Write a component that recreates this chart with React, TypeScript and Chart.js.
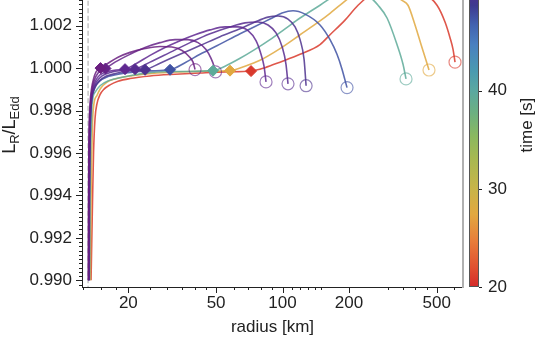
import React, { useEffect, useRef } from 'react';
import { Chart, registerables } from 'chart.js';

Chart.register(...registerables);

// ---------------- data ----------------
const seriesTimes = [20.8, 27.5, 39.5, 47.5, 49.8, 50.7, 51.5, 52.3, 53];

const radiusT21 = [13.55, 13.76, 13.91, 14.13, 14.43, 14.88, 15.52, 16.52, 17.96, 20.36, 25.09, 32.56, 42.27, 54.88, 71.99, 83.32, 97.44, 120.1, 147.9, 164.2, 192.0, 220.0, 262.7, 330.4, 420.2, 501.6, 545.4, 574.6, 593.0, 605.4];
const lumT21 = [0.99001, 0.99371, 0.99602, 0.99764, 0.99834, 0.99875, 0.99901, 0.99921, 0.99938, 0.99951, 0.99963, 0.99971, 0.99977, 0.99982, 0.99986, 1.00002, 1.00028, 1.00065, 1.00111, 1.00157, 1.00226, 1.00296, 1.0036, 1.00397, 1.00365, 1.00296, 1.00217, 1.00143, 1.00088, 1.00028];

const radiusT28 = [13.45, 13.55, 13.66, 13.76, 13.94, 14.43, 14.93, 16.01, 17.46, 20.79, 25.62, 34.31, 44.54, 57.81, 67.62, 79.07, 97.44, 120.1, 147.9, 164.2, 182.3, 213.2, 260.0, 307.2, 348.2, 370.6, 398.8, 424.6, 447.2, 461.4];
const lumT28 = [0.99001, 0.99371, 0.99602, 0.99741, 0.99826, 0.99872, 0.99903, 0.99934, 0.99949, 0.99964, 0.99975, 0.99982, 0.99985, 0.99988, 1.00009, 1.00037, 1.00092, 1.00157, 1.00222, 1.00258, 1.00296, 1.00351, 1.00388, 1.0036, 1.00319, 1.00296, 1.00203, 1.00111, 1.00037, 0.99991];

const radiusT40 = [13.34, 13.41, 13.48, 13.62, 13.69, 14.17, 14.93, 16.3, 18.73, 25.62, 34.31, 48.42, 54.88, 64.21, 75.03, 87.77, 102.7, 120.1, 147.9, 173.0, 206.6, 244.2, 271.1, 297.8, 330.4, 351.8, 363.0];
const lumT40 = [0.99001, 0.99371, 0.99602, 0.99741, 0.99826, 0.99888, 0.99918, 0.99941, 0.99957, 0.9998, 0.99984, 0.99988, 1.00009, 1.00046, 1.00088, 1.00134, 1.00185, 1.00236, 1.00296, 1.00342, 1.00374, 1.00342, 1.00296, 1.00236, 1.00111, 1.00018, 0.99949];

const radiusT47 = [13.3, 13.34, 13.4, 13.47, 13.58, 13.94, 14.68, 16.3, 19.38, 25.09, 30.91, 36.14, 42.27, 52.09, 64.21, 75.03, 87.77, 99.49, 111.6, 126.5, 147.9, 164.2, 176.6, 186.1, 196.1];
const lumT47 = [0.99001, 0.99371, 0.99602, 0.99741, 0.99834, 0.99898, 0.99935, 0.99961, 0.99977, 0.99987, 0.99992, 1.00025, 1.00065, 1.00113, 1.00162, 1.00196, 1.00231, 1.00259, 1.0027, 1.00254, 1.00203, 1.00134, 1.00065, 0.99995, 0.99908];

const radiusT49 = [13.27, 13.31, 13.37, 13.44, 13.59, 13.91, 14.43, 15.36, 17.05, 19.73, 23.81, 27.84, 34.31, 42.27, 52.09, 64.21, 75.03, 85.97, 95.42, 105.9, 114.0, 120.1, 125.2, 127.9];
const lumT49 = [0.99001, 0.99371, 0.99602, 0.99741, 0.99834, 0.99889, 0.99926, 0.99954, 0.99972, 0.99985, 0.99992, 1.00023, 1.00065, 1.00106, 1.00148, 1.00185, 1.00217, 1.0024, 1.00245, 1.00231, 1.00194, 1.00134, 1.00042, 0.99917];

const radiusT50 = [13.24, 13.28, 13.34, 13.41, 13.55, 13.84, 14.35, 15.2, 16.87, 18.92, 21.45, 25.09, 30.91, 38.09, 46.93, 57.81, 67.62, 77.42, 85.97, 93.45, 99.49, 103.7, 105.9];
const lumT50 = [0.99001, 0.99371, 0.99602, 0.99741, 0.99834, 0.99894, 0.99935, 0.99963, 0.99982, 0.99989, 0.99995, 1.00028, 1.00074, 1.0012, 1.00162, 1.00194, 1.00213, 1.00217, 1.00203, 1.00166, 1.00102, 1.00018, 0.99926];

const radiusT51 = [13.23, 13.27, 13.31, 13.38, 13.52, 13.76, 14.2, 14.88, 16.18, 17.59, 19.32, 21.45, 25.09, 29.33, 34.31, 40.13, 46.93, 54.88, 62.88, 69.77, 75.82, 79.9, 82.44, 84.19];
const lumT51 = [0.99001, 0.99371, 0.99602, 0.99741, 0.99834, 0.99894, 0.9994, 0.99968, 0.99984, 0.99991, 0.99995, 1.00018, 1.0006, 1.00097, 1.00129, 1.00157, 1.0018, 1.00194, 1.00194, 1.00176, 1.00129, 1.00065, 1.00009, 0.99935];

const radiusT52 = [13.2, 13.23, 13.27, 13.34, 13.48, 13.69, 14.05, 14.58, 15.04, 15.76, 17.41, 20.36, 23.81, 27.84, 32.56, 37.3, 41.4, 45.0, 47.42, 48.93, 49.7];
const lumT52 = [0.99001, 0.99371, 0.99602, 0.99741, 0.99834, 0.99898, 0.99945, 0.99977, 0.99988, 0.99998, 1.00028, 1.00065, 1.00097, 1.0012, 1.00134, 1.00134, 1.0012, 1.00088, 1.00046, 1.00009, 0.99982];

const radiusT53 = [13.17, 13.2, 13.24, 13.3, 13.41, 13.62, 13.91, 14.28, 14.96, 16.18, 17.96, 20.36, 23.81, 27.84, 31.56, 35.03, 37.69, 39.3, 40.13];
const lumT53 = [0.99001, 0.99371, 0.99602, 0.99741, 0.99834, 0.99903, 0.99949, 0.99982, 1.0, 1.00023, 1.00051, 1.00074, 1.00092, 1.00102, 1.00099, 1.00083, 1.00055, 1.00028, 0.99993];

const markerRadius = [71.99, 57.81, 48.42, 30.91, 23.81, 21.45, 19.32, 15.76, 14.96];
const markerLum = [0.99986, 0.99988, 0.99988, 0.99992, 0.99992, 0.99995, 0.99995, 0.99998, 1.0];

const nsRadius = 13.14;

const xTickValues = [20, 50, 100, 200, 500];
const xTickLabels = ['20', '50', '100', '200', '500'];
const xMinorTicks = [12.5, 15, 17.5, 25, 30, 35, 40, 45, 60, 70, 80, 90, 110, 120, 130, 140, 150, 300, 350, 400, 450, 600];
const yTickLabels = ['0.990', '0.992', '0.994', '0.996', '0.998', '1.000', '1.002'];
const yTickValues = yTickLabels.map(Number);
const cbTickValues = [20, 30, 40];
const cbTickLabels = ['20', '30', '40'];

const xMin = 12.33, xMax = 658;
const yMin = 0.98969, yMax = 1.00494;
const tMin = 20, tMax = 53;

// ---------------- style ----------------
const cmapStops: [number, string][] = [
  [20, '#d42a2a'], [22, '#e05030'], [24.7, '#e87d3a'], [27.4, '#e2a840'], [30, '#c8b448'],
  [33, '#a8b850'], [35.4, '#8ab860'], [37.7, '#6cb080'], [40, '#5aa8a0'], [42, '#4a9ab0'],
  [44.7, '#4a80c0'], [46.7, '#4262b0'], [48.7, '#3e3a90'], [50, '#50308e'], [51.5, '#5f2890'],
  [53, '#6a1e80'],
];
const FONT = '"Liberation Sans", Arial, sans-serif';

function hexRgb(h: string) {
  return [parseInt(h.slice(1, 3), 16), parseInt(h.slice(3, 5), 16), parseInt(h.slice(5, 7), 16)];
}
function cmap(t: number, a = 1) {
  let c = hexRgb(cmapStops[cmapStops.length - 1][1]);
  if (t <= cmapStops[0][0]) c = hexRgb(cmapStops[0][1]);
  for (let i = 0; i < cmapStops.length - 1; i++) {
    const [t0, c0] = cmapStops[i];
    const [t1, c1] = cmapStops[i + 1];
    if (t >= t0 && t <= t1) {
      const f = (t - t0) / (t1 - t0);
      const a0 = hexRgb(c0), a1 = hexRgb(c1);
      c = a0.map((v, k) => Math.round(v + (a1[k] - v) * f));
      break;
    }
  }
  return `rgba(${c[0]},${c[1]},${c[2]},${a})`;
}

const curves = [
  { t: seriesTimes[0], r: radiusT21, l: lumT21 },
  { t: seriesTimes[1], r: radiusT28, l: lumT28 },
  { t: seriesTimes[2], r: radiusT40, l: lumT40 },
  { t: seriesTimes[3], r: radiusT47, l: lumT47 },
  { t: seriesTimes[4], r: radiusT49, l: lumT49 },
  { t: seriesTimes[5], r: radiusT50, l: lumT50 },
  { t: seriesTimes[6], r: radiusT51, l: lumT51 },
  { t: seriesTimes[7], r: radiusT52, l: lumT52 },
  { t: seriesTimes[8], r: radiusT53, l: lumT53 },
];

const decorPlugin = {
  id: 'decor',
  beforeDatasetsDraw(chart: any) {
    const { ctx, chartArea, scales } = chart;
    const px = scales.x.getPixelForValue(nsRadius);
    ctx.save();
    ctx.strokeStyle = '#c4c4c4';
    ctx.lineWidth = 1.5;
    ctx.setLineDash([5, 2.5]);
    ctx.beginPath();
    ctx.moveTo(px, chartArea.top);
    ctx.lineTo(px, chartArea.bottom);
    ctx.stroke();
    ctx.restore();
  },
  afterDraw(chart: any) {
    const { ctx, chartArea, scales } = chart;
    const { left, right, bottom, top } = chartArea;
    const ys = scales.y, xs = scales.x, cs = scales.yc;
    ctx.save();
    ctx.strokeStyle = '#222';
    ctx.lineWidth = 1;
    ctx.beginPath();
    const k0 = Math.ceil(yMin / 0.0002 - 1e-6), k1 = Math.floor(yMax / 0.0002 + 1e-6);
    for (let k = k0; k <= k1; k++) {
      const p = Math.round(ys.getPixelForValue(k * 0.0002)) + 0.5;
      const len = k % 10 === 0 ? 6 : 3;
      ctx.moveTo(left, p);
      ctx.lineTo(left - len, p);
    }
    xTickValues.forEach((v) => {
      const p = Math.round(xs.getPixelForValue(v)) + 0.5;
      ctx.moveTo(p, bottom);
      ctx.lineTo(p, bottom + 6);
    });
    xMinorTicks.forEach((v) => {
      const p = Math.round(xs.getPixelForValue(v)) + 0.5;
      ctx.moveTo(p, bottom);
      ctx.lineTo(p, bottom + 3);
    });
    ctx.stroke();

    // colorbar
    const cbL = right + 6, cbR = right + 16;
    const yb = cs.getPixelForValue(tMin), yt = cs.getPixelForValue(tMax);
    const g = ctx.createLinearGradient(0, yb, 0, yt);
    cmapStops.forEach(([t, c]) => g.addColorStop((t - tMin) / (tMax - tMin), c));
    ctx.fillStyle = g;
    ctx.fillRect(cbL, yt, cbR - cbL, yb - yt);
    ctx.strokeStyle = '#555';
    ctx.lineWidth = 1;
    ctx.strokeRect(cbL + 0.5, yt + 0.5, cbR - cbL - 1, yb - yt - 1);
    ctx.strokeStyle = '#222';
    ctx.beginPath();
    cbTickValues.forEach((v) => {
      const p = Math.round(cs.getPixelForValue(v)) + 0.5;
      ctx.moveTo(cbR, p);
      ctx.lineTo(cbR + 3, p);
    });
    ctx.stroke();

    // y title with subscripts
    ctx.fillStyle = '#222';
    ctx.textBaseline = 'alphabetic';
    const mainF = `18px ${FONT}`, subF = `13px ${FONT}`;
    const parts: [string, string, number][] = [['L', mainF, 0], ['R', subF, 4], ['/', mainF, 0], ['L', mainF, 0], ['Edd', subF, 4]];
    let total = 0;
    parts.forEach(([s, f]) => { ctx.font = f; total += ctx.measureText(s).width; });
    ctx.save();
    ctx.translate(15, (top + bottom) / 2);
    ctx.rotate(-Math.PI / 2);
    let cx = -total / 2;
    parts.forEach(([s, f, dy]) => {
      ctx.font = f;
      ctx.fillText(s, cx, dy);
      cx += ctx.measureText(s).width;
    });
    ctx.restore();

    // colorbar title
    ctx.save();
    ctx.font = `17px ${FONT}`;
    ctx.textAlign = 'center';
    ctx.textBaseline = 'middle';
    ctx.translate(527, (top + bottom) / 2);
    ctx.rotate(-Math.PI / 2);
    ctx.fillText('time [s]', 0, 0);
    ctx.restore();
    ctx.restore();
  },
};

export default function App() {
  const ref = useRef<HTMLCanvasElement>(null);
  useEffect(() => {
    const lineSets = curves.map((c, i) => ({
      label: `t=${c.t}`,
      data: c.r.map((r, j) => ({ x: r, y: c.l[j] })),
      showLine: true,
      borderColor: cmap(c.t, 0.85),
      backgroundColor: cmap(c.t, 0.85),
      borderWidth: 1.6,
      pointRadius: 0,
      cubicInterpolationMode: 'monotone',
      order: 30 - i,
    }));
    const diamonds = {
      label: 'markers',
      data: markerRadius.map((r, i) => ({ x: r, y: markerLum[i] })),
      showLine: false,
      pointStyle: 'rectRot',
      pointRadius: 5.5,
      backgroundColor: seriesTimes.map((t) => cmap(t)),
      borderColor: seriesTimes.map((t) => cmap(t)),
      borderWidth: 1,
      order: 0,
    };
    const ends = {
      label: 'ends',
      data: curves.map((c) => ({ x: c.r[c.r.length - 1], y: c.l[c.l.length - 1] })),
      showLine: false,
      pointStyle: 'circle',
      pointRadius: 6,
      backgroundColor: 'rgba(0,0,0,0)',
      borderColor: seriesTimes.map((t) => cmap(t, 0.6)),
      borderWidth: 1.2,
      order: 1,
    };
    const tickFont = { family: FONT, size: 17 };
    const chart = new Chart(ref.current as HTMLCanvasElement, {
      type: 'scatter',
      data: { datasets: [diamonds, ends, ...lineSets] as any },
      plugins: [decorPlugin],
      options: {
        responsive: false,
        animation: false,
        devicePixelRatio: 1,
        layout: { padding: { top: 7, left: 0, right: 0, bottom: 0 } },
        plugins: { legend: { display: false }, tooltip: { enabled: false } },
        scales: {
          x: {
            type: 'logarithmic',
            position: 'bottom',
            min: xMin,
            max: xMax,
            grid: { display: false, drawTicks: false },
            border: { display: true, color: '#222', width: 1 },
            afterBuildTicks: (s: any) => {
              s.ticks = [xMin, ...xTickValues, xMax].map((v) => ({ value: v }));
            },
            afterFit: (s: any) => { s.height = 52; },
            ticks: {
              autoSkip: false,
              maxRotation: 0,
              padding: 6,
              color: '#222',
              font: tickFont,
              callback: (v: any) => {
                const i = xTickValues.findIndex((t) => Math.abs(t - v) < 1e-6);
                return i >= 0 ? xTickLabels[i] : null;
              },
            },
            title: { display: true, text: 'radius [km]', color: '#222', font: { family: FONT, size: 17 }, padding: { top: 0, bottom: 1 } },
          },
          y: {
            type: 'linear',
            position: 'left',
            min: yMin,
            max: yMax,
            grid: { display: false, drawTicks: true, tickLength: 7 },
            border: { display: true, color: '#222', width: 1 },
            afterBuildTicks: (s: any) => {
              s.ticks = [yMin, ...yTickValues, yMax].map((v) => ({ value: v }));
            },
            afterFit: (s: any) => { s.width = 82; },
            ticks: {
              autoSkip: false,
              padding: 3,
              color: '#222',
              font: tickFont,
              callback: (v: any) => {
                const i = yTickValues.findIndex((t) => Math.abs(t - v) < 1e-9);
                return i >= 0 ? yTickLabels[i] : null;
              },
            },
          },
          yc: {
            type: 'linear',
            position: 'right',
            min: tMin,
            max: tMax,
            grid: { display: false, drawTicks: true, tickLength: 22 },
            border: { display: true, color: '#b0b0b0', width: 2 },
            afterBuildTicks: (s: any) => {
              s.ticks = [...cbTickValues, tMax].map((v) => ({ value: v }));
            },
            afterFit: (s: any) => { s.width = 75; },
            ticks: {
              autoSkip: false,
              padding: 3,
              color: '#222',
              font: tickFont,
              callback: (v: any) => {
                const i = cbTickValues.findIndex((t) => Math.abs(t - v) < 1e-9);
                return i >= 0 ? cbTickLabels[i] : null;
              },
            },
          },
        },
      } as any,
    });
    return () => chart.destroy();
  }, []);
  return (
    <div style={{ position: 'absolute', left: 0, top: -50, width: 538, height: 389, overflow: 'hidden' }}>
      <canvas ref={ref} width={538} height={389} style={{ display: 'block', width: 538, height: 389 }} />
    </div>
  );
}
